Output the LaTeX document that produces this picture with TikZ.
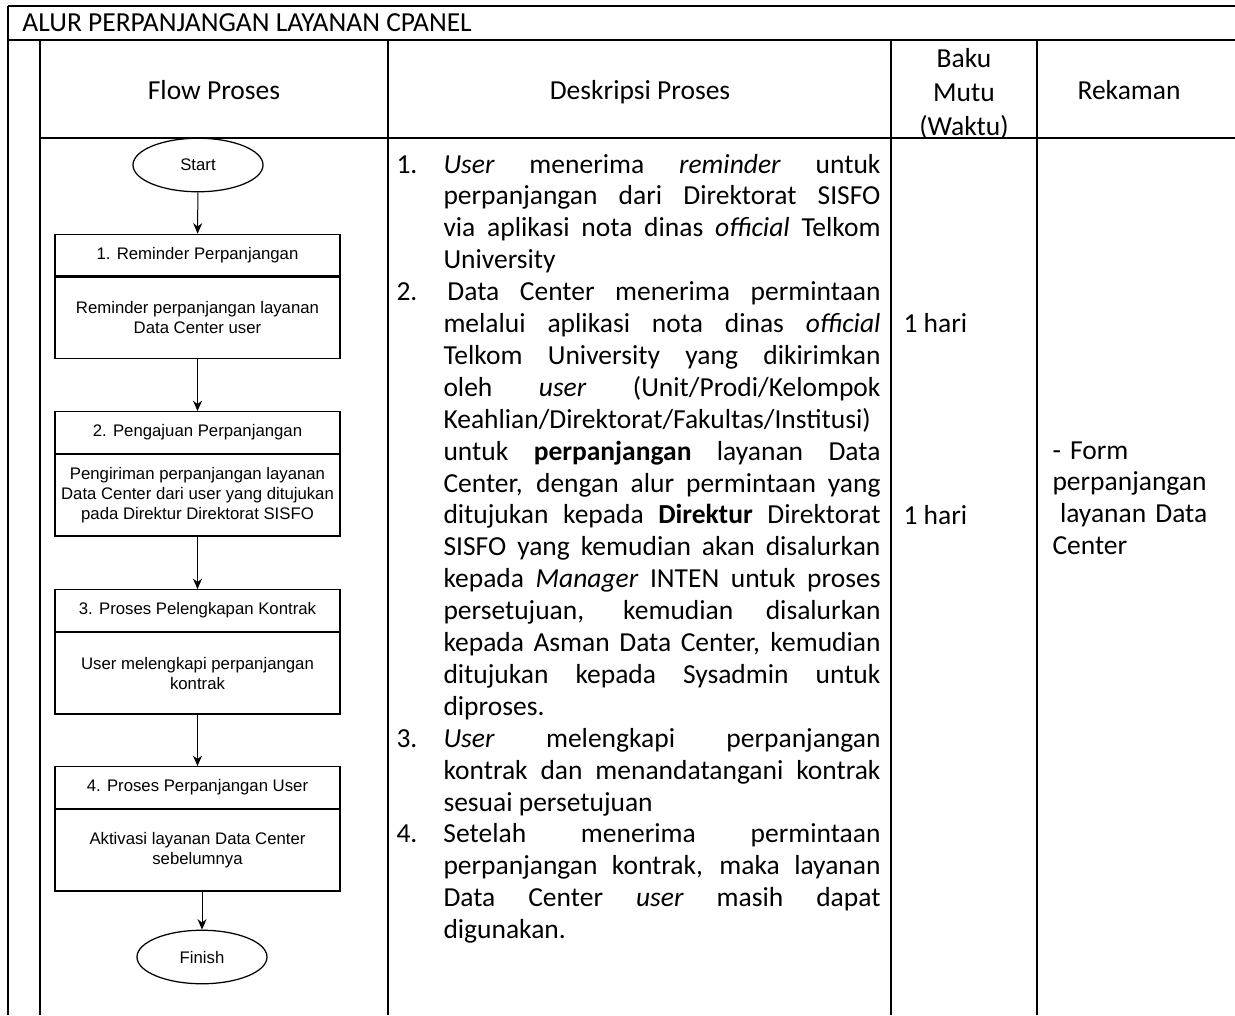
\documentclass[tikz,border=0pt]{standalone}
\usepackage{fontspec}
\setmainfont{Carlito}
\newfontfamily\flowfont{Liberation Sans}
\usepackage{tikz}
\usetikzlibrary{arrows.meta,shapes.geometric}

\newcommand{\descitem}[1]{\hangindent=18.8pt\hangafter=1\noindent\makebox[18.8pt][l]{#1}}

\tikzset{
	tabline/.style={line width=1pt},
	cell/.style={inner sep=0pt,font=\fontsize{11}{12.76}\selectfont},
	proctitle/.style={draw,line width=0.5pt,minimum width=114pt,minimum height=16.6pt,inner sep=0pt,font=\flowfont\fontsize{6.7}{8}\selectfont},
	procbody/.style={draw,line width=0.5pt,minimum width=114pt,minimum height=32.6pt,inner sep=0pt,align=center,font=\flowfont\fontsize{6.7}{8}\selectfont},
	terminal/.style={ellipse,draw,line width=0.5pt,minimum width=52pt,minimum height=21.4pt,inner sep=0pt,font=\flowfont\fontsize{6.7}{8}\selectfont}
}

\begin{document}
\begin{tikzpicture}[x=0.4pt,y=-0.4pt,>={Stealth[length=4.2pt,width=3.6pt]}]
			\useasboundingbox (0,0) rectangle (1235,1015);
			
			\draw[tabline] (8,6)--(1235,6);
			\draw[tabline] (8,40)--(1235,40);
			\draw[tabline] (40,138)--(1235,138);
			\draw[tabline] (8,6)--(8,1015);
			\draw[tabline] (40,40)--(40,1015);
			\draw[tabline] (388,40)--(388,1015);
			\draw[tabline] (891,40)--(891,1015);
			\draw[tabline] (1037,40)--(1037,1015);
			
			\node[cell,anchor=base west] (judul) at (22,31) {ALUR PERPANJANGAN LAYANAN CPANEL};
			\node[cell,anchor=base] (hflow) at (214,99) {Flow Proses};
			\node[cell,anchor=base] (hdesk) at (640,99) {Deskripsi Proses};
			\node[cell,anchor=base,text width=60pt,align=center,font=\fontsize{11}{13.6}\selectfont] (hbaku) at (964,67) {Baku\\Mutu\\(Waktu)};
			\node[cell,anchor=base] (hrekam) at (1129,99) {Rekaman};
			
			\node[terminal] (start) at (198,165) {Start};
			\node[proctitle] (t1) at (197.5,255) {1. Reminder Perpanjangan};
			\node[procbody,anchor=north] (b1) at (t1.south) {Reminder perpanjangan layanan\\Data Center user};
			\node[proctitle] (t2) at (197.5,432.5) {2. Pengajuan Perpanjangan};
			\node[procbody,anchor=north] (b2) at (t2.south) {Pengiriman perpanjangan layanan\\Data Center dari user yang ditujukan\\pada Direktur Direktorat SISFO};
			\node[proctitle] (t3) at (197.5,610.5) {3. Proses Pelengkapan Kontrak};
			\node[procbody,anchor=north] (b3) at (t3.south) {User melengkapi perpanjangan\\kontrak};
			\node[proctitle] (t4) at (197.5,787.5) {4. Proses Perpanjangan User};
			\node[procbody,anchor=north] (b4) at (t4.south) {Aktivasi layanan Data Center\\sebelumnya};
			\node[terminal] (finish) at (202,957) {Finish};
			
			\draw[->] (start)--(t1);
			\draw[->] (b1)--(t2);
			\draw[->] (b2)--(t3);
			\draw[->] (b3)--(t4);
			\draw[->] (b4.south -| finish)--(finish);
			
			\node[cell,text width=193.6pt,align=justify,anchor=base west] (deskripsi) at (396,173) {\tolerance=10000 \hyphenpenalty=10000
				\descitem{1.}\textit{User} menerima \textit{reminder} untuk\linebreak perpanjangan dari Direktorat SISFO\linebreak via aplikasi nota dinas \textit{official} Telkom\linebreak University\par
				\descitem{2.}\hspace{1.6pt}Data Center menerima permintaan\linebreak melalui aplikasi nota dinas \textit{official}\linebreak Telkom University yang dikirimkan\linebreak oleh \textit{user} (Unit/Prodi/Kelompok\linebreak Keahlian/Direktorat/Fakultas/Institusi)\linebreak untuk \textbf{perpanjangan} layanan Data\linebreak Center, dengan alur permintaan yang\linebreak ditujukan kepada \textbf{Direktur} Direktorat\linebreak SISFO yang kemudian akan disalurkan\linebreak kepada \textit{Manager} INTEN untuk proses\linebreak persetujuan, kemudian disalurkan\linebreak kepada Asman Data Center, kemudian\linebreak ditujukan kepada Sysadmin untuk\linebreak diproses.\par
				\descitem{3.}\textit{User} melengkapi perpanjangan\linebreak kontrak dan menandatangani kontrak\linebreak sesuai persetujuan\par
				\descitem{4.}Setelah menerima permintaan\linebreak perpanjangan kontrak, maka layanan\linebreak Data Center \textit{user} masih dapat\linebreak digunakan.\par};
			
			\node[cell,anchor=base west] (waktu1) at (903,332.5) {1 hari};
			\node[cell,anchor=base west] (waktu2) at (903,524) {1 hari};
			
			\node[cell,anchor=base west,text width=72pt,align=left] (rekaman) at (1052,459) {- Form\\perpanjangan\\\hspace*{3pt}layanan Data\\Center};
		\end{tikzpicture}
\end{document}
